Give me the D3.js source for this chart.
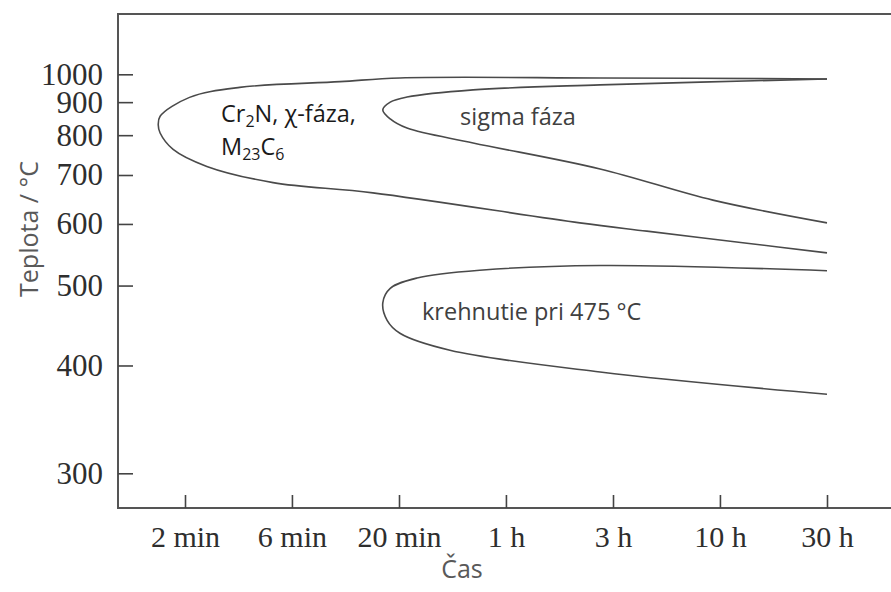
<!DOCTYPE html>
<html>
<head>
<meta charset="utf-8">
<script src="https://cdn.jsdelivr.net/npm/d3@7"></script>
<style>
	body { margin: 0; background: #fff; }
	.tick text { font-family: "Liberation Serif", "DejaVu Serif", serif; fill: #2e2e2e; }
	.tick line { stroke: #444; stroke-width: 1.6; }
	.domain { display: none; }
	.curve { fill: none; stroke: #4a4a4a; stroke-width: 1.6; }
	.note { font-family: "Open Sans", sans-serif; font-size: 23.5px; }
	.title { font-family: "Open Sans", sans-serif; font-size: 25px; fill: #595959; }
</style>
</head>
<body>
<div id="chart"></div>
<script>
document.title = "TTT diagram";

const width  = 891
	, height = 592;

// axis ticks
const timeTicks  = [2, 6.32, 20, 63.2, 200, 632, 2000]   // minutes, log grid
	, timeLabels = ["2 min", "6 min", "20 min", "1 h", "3 h", "10 h", "30 h"]
	, tempTicks  = [300, 400, 500, 600, 700, 800, 900, 1000];

// curves: [minutes, °C], drawn around each nose
const chiCurve = [
	[2000, 982], [174, 986], [20.2, 986], [10.6, 972], [3.6, 951], [2.1, 916],
	[1.53, 855], [1.5, 829], [1.53, 806], [1.76, 762], [2.53, 720], [5.16, 683],
	[15.1, 661], [140, 602], [288, 587], [845, 566], [2000, 550]
];
const sigmaCurve = [
	[2000, 982], [174, 960], [44.4, 942], [21.8, 917], [18.2, 900], [16.8, 875],
	[18.2, 847], [21.8, 820], [44.4, 779], [174, 714], [586, 646],
	[2000, 602]
];
const brittleCurve = [
	[2000, 522], [174, 530], [49.4, 523], [24.3, 511], [18.2, 496], [16.8, 476],
	[17.6, 453], [20.2, 437], [34.6, 417], [174, 393], [2000, 370]
];

const svg = d3.select("#chart")
	.append("svg")
		.attr("width", width)
		.attr("height", height);

const frame = { left: 118, top: 14, bottom: 508, right: 900 };

// scales: log time, inverse absolute temperature
const x = d3.scaleLog()
	.domain([2, 2000])
	.range([185, 827]);
const yInv = d3.scaleLinear()
	.domain([1 / 573, 1 / 1273])
	.range([473.3, 74.3]);
const y = t => yInv(1 / (t + 273));

// frame
svg.append("rect")
	.attr("x", frame.left)
	.attr("y", frame.top)
	.attr("width", frame.right - frame.left)
	.attr("height", frame.bottom - frame.top)
	.attr("fill", "none")
	.attr("stroke", "#555")
	.attr("stroke-width", 2);

// axes, ticks pointing inside
svg.append("g")
	.attr("transform", "translate(" + frame.left + ",0)")
	.call(d3.axisLeft(yInv)
		.tickValues(tempTicks.map(t => 1 / (t + 273)))
		.tickFormat((d, i) => tempTicks[i])
		.tickSize(-15)
		.tickPadding(15))
	.selectAll("text")
		.style("font-size", "31px");

svg.append("g")
	.attr("transform", "translate(0," + frame.bottom + ")")
	.call(d3.axisBottom(x)
		.tickValues(timeTicks)
		.tickFormat((d, i) => timeLabels[i])
		.tickSize(-13)
		.tickPadding(18))
	.selectAll("text")
		.style("font-size", "30px");

// curves
const line = d3.line()
	.x(d => x(d[0]))
	.y(d => y(d[1]))
	.curve(d3.curveCatmullRom.alpha(0.5));

svg.selectAll(".curve")
	.data([chiCurve, sigmaCurve, brittleCurve])
	.join("path")
		.attr("class", "curve")
		.attr("d", line);

// region notes
const chi = svg.append("text")
	.attr("class", "note")
	.attr("x", 221)
	.attr("y", 122)
	.attr("fill", "#1a1a1a");
chi.append("tspan").text("Cr");
chi.append("tspan").attr("dy", 5).style("font-size", "16px").text("2");
chi.append("tspan").attr("dy", -5).text("N, χ-fáza,");

const m = svg.append("text")
	.attr("class", "note")
	.attr("x", 221)
	.attr("y", 155)
	.attr("fill", "#1a1a1a");
m.append("tspan").text("M");
m.append("tspan").attr("dy", 5).style("font-size", "16px").text("23");
m.append("tspan").attr("dy", -5).text("C");
m.append("tspan").attr("dy", 5).style("font-size", "16px").text("6");

svg.append("text")
	.attr("class", "note")
	.attr("x", 460)
	.attr("y", 125)
	.attr("fill", "#404040")
	.text("sigma fáza");

svg.append("text")
	.attr("class", "note")
	.attr("x", 422)
	.attr("y", 320)
	.attr("fill", "#404040")
	.text("krehnutie pri 475 °C");

// axis titles
svg.append("text")
	.attr("class", "title")
	.attr("text-anchor", "middle")
	.attr("transform", "translate(38,229) rotate(-90)")
	.text("Teplota / °C");

svg.append("text")
	.attr("class", "title")
	.attr("text-anchor", "middle")
	.attr("x", 462)
	.attr("y", 578)
	.text("Čas");
</script>
</body>
</html>
